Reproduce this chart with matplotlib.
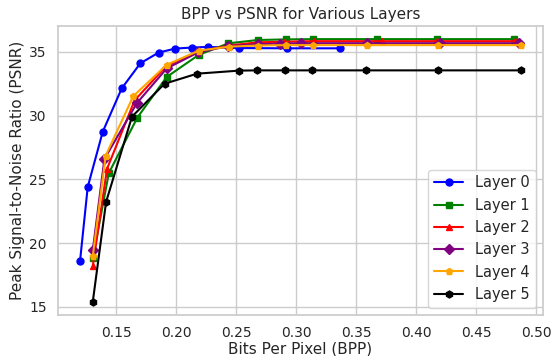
import matplotlib
matplotlib.use("Agg")
import matplotlib.pyplot as plt
import seaborn as sns

sns.set_theme(style="whitegrid")
plt.rcParams['font.family'] = ['DejaVu Sans']

layers = ["Layer 0", "Layer 1", "Layer 2", "Layer 3", "Layer 4", "Layer 5"]
colors = ["blue", "green", "red", "purple", "orange", "black"]
markers = ["o", "s", "^", "D", "p", "h"]

bpp_l0 = [0.1200, 0.1264, 0.1389, 0.1547, 0.1703, 0.1856, 0.1994, 0.2133, 0.2264, 0.2529, 0.2923, 0.3367]
psnr_l0 = [18.60, 24.40, 28.73, 32.13, 34.11, 34.95, 35.26, 35.34, 35.39, 35.30, 35.28, 35.28]

bpp_l1 = [0.1306, 0.1440, 0.1678, 0.1922, 0.2190, 0.2436, 0.2680, 0.2917, 0.3144, 0.3672, 0.4172, 0.4817]
psnr_l1 = [18.80, 25.50, 29.85, 33.03, 34.77, 35.67, 35.93, 35.98, 36.00, 36.00, 36.00, 36.00]

bpp_l2 = [0.1306, 0.1425, 0.1655, 0.1915, 0.2180, 0.2440, 0.2685, 0.2903, 0.3150, 0.3714, 0.4172, 0.4825]
psnr_l2 = [18.19, 25.83, 31.20, 33.85, 35.00, 35.50, 35.75, 35.80, 35.84, 35.84, 35.84, 35.84]

bpp_l3 = [0.1306, 0.1403, 0.1672, 0.1922, 0.2186, 0.2436, 0.2680, 0.2870, 0.3042, 0.3592, 0.4200, 0.4856]
psnr_l3 = [19.43, 26.60, 30.96, 33.70, 34.97, 35.45, 35.60, 35.65, 35.68, 35.68, 35.68, 35.68]

bpp_l4 = [0.1306, 0.1414, 0.1644, 0.1922, 0.2192, 0.2444, 0.2686, 0.2917, 0.3144, 0.3589, 0.4181, 0.4873]
psnr_l4 = [18.96, 26.87, 31.53, 33.99, 35.10, 35.41, 35.50, 35.53, 35.53, 35.53, 35.53, 35.53]

bpp_l5 = [0.1306, 0.1417, 0.1633, 0.1904, 0.2175, 0.2525, 0.2673, 0.2908, 0.3136, 0.3586, 0.4183, 0.4875]
psnr_l5 = [15.39, 23.23, 29.92, 32.50, 33.29, 33.53, 33.55, 33.55, 33.55, 33.55, 33.55, 33.55]

bpps = [bpp_l0, bpp_l1, bpp_l2, bpp_l3, bpp_l4, bpp_l5]
psnrs = [psnr_l0, psnr_l1, psnr_l2, psnr_l3, psnr_l4, psnr_l5]

fig, ax = plt.subplots(figsize=(5.51, 3.56), dpi=100)
for name, c, m, x, y in zip(layers, colors, markers, bpps, psnrs):
    ax.plot(x, y, color=c, marker=m, markersize=5, linewidth=1.5, label=name)

ax.set_title("BPP vs PSNR for Various Layers", fontsize=11, pad=5)
ax.set_xlabel("Bits Per Pixel (BPP)", fontsize=11, labelpad=1)
ax.set_ylabel("Peak Signal-to-Noise Ratio (PSNR)", fontsize=11, labelpad=3)
ax.tick_params(labelsize=10, pad=2)
ax.legend(loc="lower right", fontsize=10.5)
fig.subplots_adjust(left=58/551, right=543/551, top=1-26/356, bottom=1-315/356)
fig.savefig("out.png", dpi=100)
